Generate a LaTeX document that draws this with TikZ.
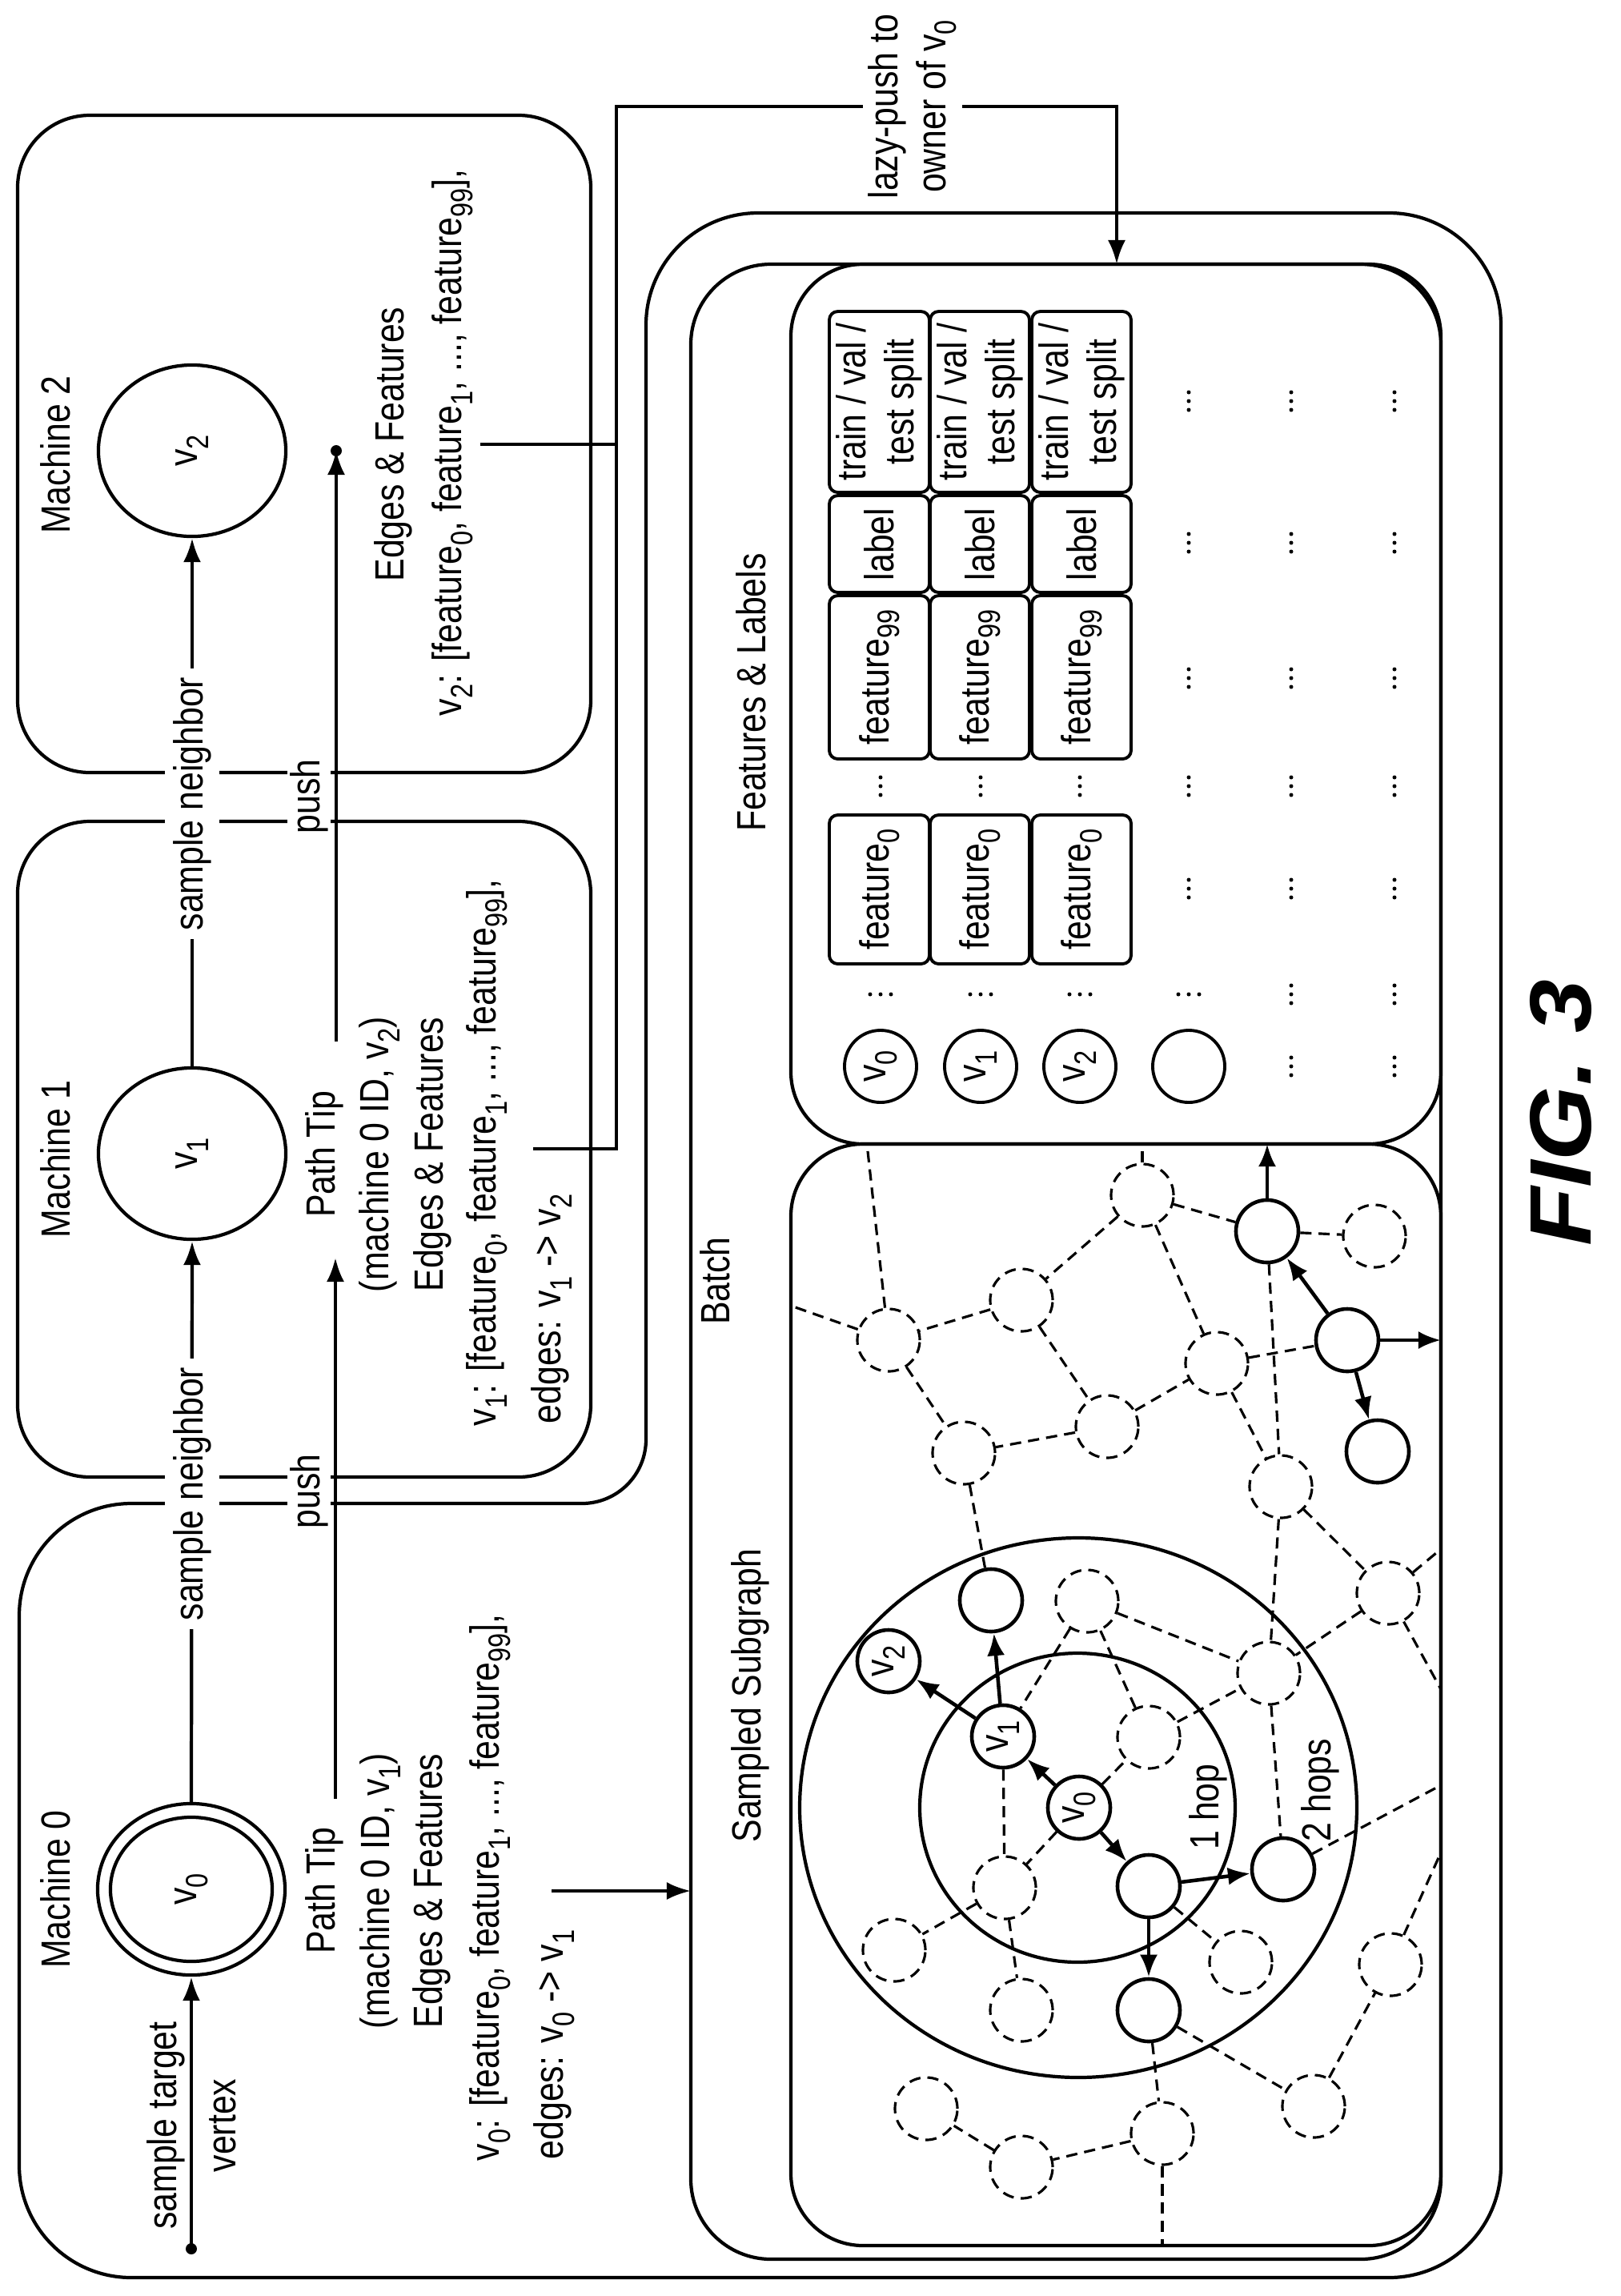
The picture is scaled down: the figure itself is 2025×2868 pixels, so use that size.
\documentclass[tikz,border=0pt]{standalone}
\usepackage{fontspec}
\setmainfont{Liberation Sans}[FakeStretch=0.84]
\newfontfamily\figfont{Liberation Sans}[FakeStretch=1.1]
\usetikzlibrary{arrows.meta,shapes.geometric}
\newcommand\sbs[1]{\raisebox{-0.5ex}{\fontsize{11}{11}\selectfont #1}}
\begin{document}
\begin{tikzpicture}[x=0.01cm,y=-0.01cm,line width=1.2pt,
  every node/.style={font=\fontsize{14.5}{17}\selectfont},
  txt/.style={rotate=90,inner sep=1pt},
  lbl/.style={rotate=90,fill=white,inner sep=3pt},
  arr/.style={-{Latex[length=3mm,width=2.2mm]}},
  mach/.style={ellipse,draw,minimum width=2.34cm,minimum height=2.14cm,inner sep=0pt},
  box/.style={draw,rounded corners=0.9cm},
  cell/.style={draw,rounded corners=3pt,line width=1.1pt},
  dn/.style={circle,draw,dashed,line width=0.9pt,dash pattern=on 4pt off 2.5pt,minimum size=0.78cm,inner sep=0pt},
  sn/.style={circle,draw,line width=1.3pt,minimum size=0.78cm,inner sep=0pt},
  de/.style={dashed,line width=0.9pt,dash pattern=on 4pt off 2.5pt},
  sa/.style={line width=1.3pt,-{Latex[length=2.8mm,width=2.2mm]}},
  tc/.style={circle,draw,line width=1.1pt,minimum size=0.9cm,inner sep=0pt}]
\useasboundingbox (0,0) rectangle (2025,2868);
% ---------- boxes ----------
\draw[rounded corners=1.4cm] (24,2845) -- (24,1878) [rounded corners=0.8cm] -- (807,1878) [rounded corners=1.4cm] -- (807,266) -- (1875,266) -- (1875,2845) -- cycle;
\draw[box] (22,1026) rectangle (738,1845);
\draw[box] (22,144) rectangle (738,965);
\draw[rounded corners=1.0cm] (863,330) rectangle (1800,2822);
\draw[box] (988,330) rectangle (1800,1429);
\draw[box] (988,1429) rectangle (1800,2805);
% ---------- machines ----------
\node[txt] (m0) at (69,2360) {Machine 0};
\node[txt] (m1) at (69,1448) {Machine 1};
\node[txt] (m2) at (69,568) {Machine 2};
\node[mach] (v0) at (239,2360) {};
\node[ellipse,draw,minimum width=2.02cm,minimum height=1.8cm,inner sep=0pt] (v0in) at (239,2360) {};
\node[txt] (v0t) at (v0) {v\sbs{0}};
\node[mach] (v1) at (240,1441) {};
\node[txt] (v1t) at (v1) {v\sbs{1}};
\node[mach] (v2) at (240,563) {};
\node[txt] (v2t) at (v2) {v\sbs{2}};
\coordinate (st) at (239,2809);
\fill (st) circle (7);
\draw[arr] (st) -- (v0.south);
\node[txt,align=center] (stl) at (239,2655) {sample target\\[4pt]vertex};
\draw[arr] (v0.north) -- (v1.south);
\draw[arr] (v1.north) -- (v2.south);
\node[lbl] (sn1) at (240,1866) {sample neighbor};
\node[lbl] (sn2) at (240,1004) {sample neighbor};
% path tip machine 0
\node[txt] (pt0) at (405,2362) {Path Tip};
\node[txt] (pa0) at (475,2362) {(machine 0 ID, v\sbs{1})};
\node[txt] (ef0) at (539,2362) {Edges \& Features};
\node[txt] (fv0) at (612,2358) {v\sbs{0}: [feature\sbs{0}, feature\sbs{1}, ..., feature\sbs{99}],};
\node[txt,anchor=west] (ed0) at (692,2703) {edges: v\sbs{0} -> v\sbs{1}};
% path tip machine 1
\node[txt] (pt1) at (405,1442) {Path Tip};
\node[txt] (pa1) at (474,1442) {(machine 0 ID, v\sbs{2})};
\node[txt] (ef1) at (540,1442) {Edges \& Features};
\node[txt] (fv1) at (608,1440) {v\sbs{1}: [feature\sbs{0}, feature\sbs{1}, ..., feature\sbs{99}],};
\node[txt,anchor=west] (ed1) at (689,1784) {edges: v\sbs{1} -> v\sbs{2}};
% machine 2
\node[txt] (ef2) at (491,555) {Edges \& Features};
\node[txt] (fv2) at (565,553) {v\sbs{2}: [feature\sbs{0}, feature\sbs{1}, ..., feature\sbs{99}],};
% push arrows
\coordinate (p0a) at (419,2247);
\coordinate (p0b) at (419,1571);
\draw[arr] (p0a) -- (p0b);
\coordinate (p1a) at (420,1301);
\coordinate (p1b) at (420,563);
\draw[arr] (p1a) -- (p1b);
\fill (p1b) circle (7);
\node[lbl,inner sep=1pt] (pu0) at (386,1863) {push};
\node[lbl,inner sep=1pt] (pu1) at (386,995) {push};
% lazy push
\coordinate (lz0) at (666,1435);
\coordinate (lz1) at (770,1435);
\coordinate (lz2) at (770,133);
\coordinate (lz3) at (1395,133);
\coordinate (lz4) at (1395,330);
\draw[arr] (lz0) -- (lz1) -- (lz2) -- (lz3) -- (lz4);
\coordinate (m2a) at (600,555);
\coordinate (m2b) at (770,555);
\draw (m2a) -- (m2b);
\node[lbl,align=center,inner sep=2pt] (lzl) at (1140,133) {lazy-push to\\owner of v\sbs{0}};
% to batch
\coordinate (b0a) at (689,2362);
\coordinate (b0b) at (863,2362);
\draw[arr] (b0a) -- (b0b);
% labels
\node[txt] (bl) at (893,1600) {Batch};
\node[txt] (ssl) at (937,2118) {Sampled Subgraph};
\node[txt] (fll) at (938,865) {Features \& Labels};
% ---------- table ----------
\foreach \c/\xa/\xb/\v in {1/1036/1161/0,2/1162/1286/1,3/1289/1413/2}{
  \draw[cell] (\xa,389) rectangle (\xb,615);
  \node[txt,align=center] at ({(\xa+\xb)/2},502) {train / val /\\test split};
  \draw[cell] (\xa,619) rectangle (\xb,740);
  \node[txt] at ({(\xa+\xb)/2},680) {label};
  \draw[cell] (\xa,744) rectangle (\xb,948);
  \node[txt] at ({(\xa+\xb)/2},846) {feature\sbs{99}};
  \draw[cell] (\xa,1018) rectangle (\xb,1204);
  \node[txt] at ({(\xa+\xb)/2},1111) {feature\sbs{0}};
}
\node[tc] (t0) at (1100,1332) {};
\node[tc] (t1) at (1225,1332) {};
\node[tc] (t2) at (1349,1332) {};
\node[tc] (t3) at (1485,1332) {};
\node[txt] at (t0) {v\sbs{0}};
\node[txt] at (t1) {v\sbs{1}};
\node[txt] at (t2) {v\sbs{2}};
\foreach \x in {1100,1225,1349}{
  \foreach \y in {982}{\fill (\x,\y-11) circle (2.5) (\x,\y) circle (2.5) (\x,\y+11) circle (2.5);}
  \fill (\x-13,1242) circle (2.5) (\x,1242) circle (2.5) (\x+13,1242) circle (2.5);
}
\foreach \y in {501,678,847,982,1110}{\fill (1485,\y-11) circle (2.5) (1485,\y) circle (2.5) (1485,\y+11) circle (2.5);}
\fill (1472,1242) circle (2.5) (1485,1242) circle (2.5) (1498,1242) circle (2.5);
\foreach \x in {1613,1742}{\foreach \y in {501,678,847,982,1110,1242,1332}{\fill (\x,\y-11) circle (2.5) (\x,\y) circle (2.5) (\x,\y+11) circle (2.5);}}
% ---------- graph ----------
\draw (1346,2258) circle [x radius=197,y radius=193];
\draw (1347,2258) circle [x radius=348,y radius=337];
\node[dn] (A) at (1427,1493) {};
\node[sn] (B) at (1583,1538) {};
\node[dn] (C) at (1717,1544) {};
\node[dn] (D) at (1276,1624) {};
\node[dn] (E) at (1110,1674) {};
\node[sn] (F) at (1683,1674) {};
\node[dn] (G) at (1520,1703) {};
\node[dn] (H) at (1383,1782) {};
\node[dn] (I) at (1204,1815) {};
\node[sn] (J) at (1721,1813) {};
\node[dn] (K) at (1600,1857) {};
\node[sn] (L) at (1238,1999) {};
\node[dn] (M) at (1358,2000) {};
\node[dn] (N) at (1734,1990) {};
\node[sn] (g2) at (1110,2075) {};
\node[sn] (g1) at (1253,2169) {};
\node[sn] (g0) at (1348,2258) {};
\node[txt] at (g2) {v\sbs{2}};
\node[txt] at (g1) {v\sbs{1}};
\node[txt] at (g0) {v\sbs{0}};
\node[dn] (P) at (1435,2170) {};
\node[dn] (Q) at (1585,2090) {};
\node[dn] (R) at (1255,2358) {};
\node[sn] (S) at (1435,2356) {};
\node[sn] (T) at (1603,2335) {};
\node[dn] (U) at (1117,2436) {};
\node[dn] (V) at (1276,2511) {};
\node[sn] (W) at (1435,2511) {};
\node[dn] (X) at (1550,2451) {};
\node[dn] (Y) at (1737,2454) {};
\node[dn] (Z) at (1157,2634) {};
\node[dn] (AA) at (1276,2707) {};
\node[dn] (AB) at (1452,2665) {};
\node[dn] (AC) at (1641,2631) {};
\coordinate (eA) at (1427,1429);
\coordinate (eE1) at (1083,1429);
\coordinate (eE2) at (988,1631);
\coordinate (eF) at (1800,1674);
\coordinate (eB) at (1583,1429);
\coordinate (eN1) at (1800,1935);
\coordinate (eN2) at (1800,2110);
\coordinate (eY) at (1800,2314);
\coordinate (eT) at (1800,2230);
\coordinate (eAB) at (1452,2805);
\foreach \a/\b in {A/eA,E/eE1,E/eE2,A/B,B/C,A/D,A/G,D/E,D/H,E/I,H/I,H/G,G/F,B/K,G/K,I/L,K/N,K/Q,N/eN1,M/Q,N/Q,N/eN2,Y/eY,M/P,M/g1,g0/P,g0/R,g1/R,P/Q,Q/T,R/U,R/V,S/X,W/AC,W/AB,AB/AA,AA/Z,AB/eAB,AC/Y,T/eT}
  \draw[de] (\a) -- (\b);
\foreach \a/\b in {g0/g1,g0/S,g1/g2,g1/L,S/T,S/W,F/B,F/J,F/eF,B/eB}
  \draw[sa] (\a) -- (\b);
\node[txt] (h1) at (1509,2257) {1 hop};
\node[txt] (h2) at (1649,2236) {2 hops};
% ---------- figure label ----------
\node[rotate=90,inner sep=0pt,font=\figfont\bfseries\itshape\fontsize{31}{33}\selectfont] (fig) at (1950,1390) {FIG. 3};
\end{tikzpicture}
\end{document}
